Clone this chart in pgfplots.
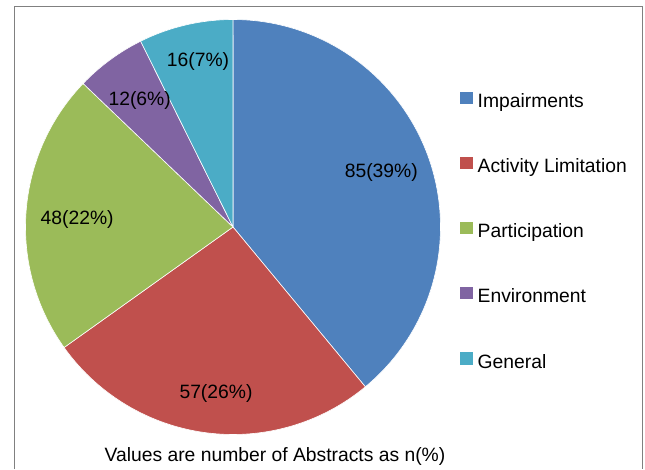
\documentclass[border=0pt]{standalone}
\usepackage{fontspec}
\setmainfont{Liberation Sans}
\usepackage{pgfplots}
\usepackage{pgfplotstable}
\pgfplotsset{compat=1.18}
\definecolor{cA}{HTML}{4F81BD}
\definecolor{cB}{HTML}{C0504D}
\definecolor{cC}{HTML}{9BBB59}
\definecolor{cD}{HTML}{8064A2}
\definecolor{cE}{HTML}{4BACC6}
\definecolor{frame}{HTML}{808080}
\pgfplotsset{sq/.style={legend image code/.code={\fill[##1, draw=none] (0bp,-1.5bp) rectangle (12.5bp,11bp);}}}
\pgfplotstableread{
n
85
57
48
12
16
}\piedata
\newcommand\lfont{\fontsize{19.3bp}{23bp}\selectfont}
\begin{document}
\pgfplotstablegetelem{0}{n}\of\piedata \pgfmathsetmacro\vA{\pgfplotsretval}%
\pgfplotstablegetelem{1}{n}\of\piedata \pgfmathsetmacro\vB{\pgfplotsretval}%
\pgfplotstablegetelem{2}{n}\of\piedata \pgfmathsetmacro\vC{\pgfplotsretval}%
\pgfplotstablegetelem{3}{n}\of\piedata \pgfmathsetmacro\vD{\pgfplotsretval}%
\pgfplotstablegetelem{4}{n}\of\piedata \pgfmathsetmacro\vE{\pgfplotsretval}%
\pgfmathsetmacro\tot{\vA+\vB+\vC+\vD+\vE}%
\pgfmathsetmacro\aA{90}%
\pgfmathsetmacro\aB{\aA-360*(\vA/\tot)}%
\pgfmathsetmacro\aC{\aB-360*(\vB/\tot)}%
\pgfmathsetmacro\aD{\aC-360*(\vC/\tot)}%
\pgfmathsetmacro\aE{\aD-360*(\vD/\tot)}%
\pgfmathsetmacro\aF{\aE-360*(\vE/\tot)}%
\newcommand\slice[3]{\fill[#3, draw=white, line width=0.6pt] (axis cs:233,242) -- ++(#1:207.5bp) arc[start angle=#1, end angle=#2, radius=207.5bp] -- cycle;}%
\begin{tikzpicture}[font=\lfont]
\begin{axis}[
  scale only axis, width=645bp, height=469bp,
  xmin=0, xmax=645, ymin=0, ymax=469,
  hide axis, clip=false,
  legend cell align=left,
  legend style={at={(axis cs:460,377.5)}, anchor=north west, draw=none, fill=none,
    inner sep=0pt, row sep=45.1bp, column sep=5bp, font=\lfont,
    nodes={inner sep=0pt, text height=14bp, text depth=4bp}},
]
\path (axis cs:0,0) rectangle (axis cs:645,469);
\draw[frame, line width=1pt] (axis cs:14,0) -- (axis cs:14,462) -- (axis cs:642.5,462) -- (axis cs:642.5,0);
\slice{\aA}{\aB}{cA}
\slice{\aB}{\aC}{cB}
\slice{\aC}{\aD}{cC}
\slice{\aD}{\aE}{cD}
\slice{\aE}{\aF}{cE}
\node[anchor=base] at (axis cs:381.3,291.7) {85(39\%)};
\node[anchor=base] at (axis cs:216,70.7) {57(26\%)};
\node[anchor=base] at (axis cs:77.2,244.7) {48(22\%)};
\node[anchor=base] at (axis cs:139.7,363) {12(6\%)};
\node[anchor=base] at (axis cs:198,402.3) {16(7\%)};
\node[anchor=base] at (axis cs:275,7.5) {Values are number of Abstracts as n(\%)};
\addlegendimage{sq, fill=cA}\addlegendentry{Impairments}
\addlegendimage{sq, fill=cB}\addlegendentry{Activity Limitation}
\addlegendimage{sq, fill=cC}\addlegendentry{Participation}
\addlegendimage{sq, fill=cD}\addlegendentry{Environment}
\addlegendimage{sq, fill=cE}\addlegendentry{General}
\end{axis}
\end{tikzpicture}
\end{document}
